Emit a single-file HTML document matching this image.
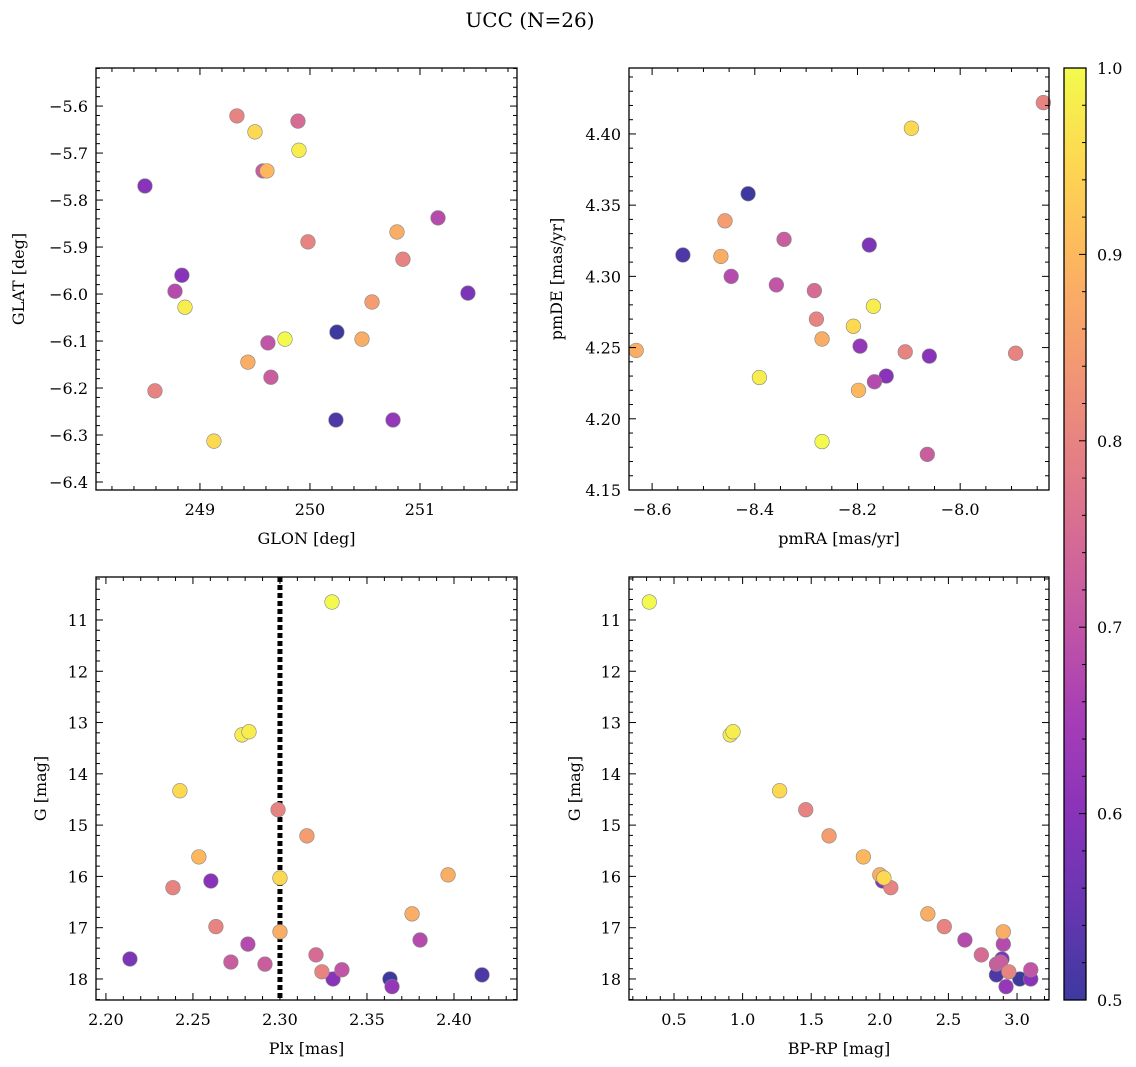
<!DOCTYPE html>
<html><head><meta charset="utf-8"><style>
html,body{margin:0;padding:0;background:#fff;}
svg{display:block;font-family:"DejaVu Serif","Liberation Serif",serif;}
</style></head>
<body>
<svg id="fig" width="1136" height="1067" viewBox="0 0 1136 1067" xmlns="http://www.w3.org/2000/svg">
<text x="530" y="27" font-size="20" text-anchor="middle">UCC (N=26)</text>
</svg>
<script>
const prob=[0.50,0.52,0.58,0.60,0.60,0.62,0.68,0.68,0.70,0.72,0.72,0.75,0.80,0.80,0.80,0.80,0.85,0.88,0.88,0.88,0.90,0.95,0.95,0.98,0.98,1.00];
const glon=[250.245,250.236,251.436,248.5,248.836,250.755,251.164,248.773,249.618,249.573,249.645,249.891,249.336,249.982,250.845,248.591,250.564,250.791,250.473,249.436,249.609,249.5,249.127,249.9,248.864,249.773];
const glat=[-6.081,-6.268,-5.998,-5.770,-5.960,-6.268,-5.838,-5.994,-6.104,-5.738,-6.177,-5.632,-5.621,-5.889,-5.926,-6.206,-6.017,-5.868,-6.096,-6.145,-5.738,-5.655,-6.313,-5.694,-6.028,-6.096];
const pmra=[-8.413,-8.540,-8.177,-8.060,-8.144,-8.195,-8.167,-8.446,-8.358,-8.064,-8.343,-8.284,-7.838,-8.280,-8.107,-7.892,-8.458,-8.631,-8.466,-8.269,-8.198,-8.095,-8.208,-8.391,-8.169,-8.269];
const pmde=[4.358,4.315,4.322,4.244,4.230,4.251,4.226,4.300,4.294,4.175,4.326,4.290,4.422,4.270,4.247,4.246,4.339,4.248,4.314,4.256,4.220,4.404,4.265,4.229,4.279,4.184];
const plx=[2.3632,2.4161,2.2138,2.2603,2.3305,2.3644,2.3805,2.2816,2.3356,2.2914,2.2718,2.3207,2.2989,2.2385,2.2632,2.3241,2.3155,2.3966,2.3759,2.30,2.2534,2.30,2.2425,2.2782,2.2822,2.3299];
const gmag=[18.0,17.92,17.61,16.09,18.0,18.15,17.24,17.32,17.82,17.71,17.67,17.53,14.70,16.22,16.98,17.86,15.21,15.97,16.73,17.08,15.62,16.03,14.33,13.24,13.18,10.65];
const bprp=[3.02,2.85,2.89,2.02,3.1,2.92,2.62,2.9,3.1,2.85,2.88,2.74,1.46,2.08,2.47,2.94,1.63,2.0,2.35,2.9,1.88,2.03,1.27,0.91,0.93,0.32];
const plxCut=2.30;
const cbTicks=[0.5,0.6,0.7,0.8,0.9,1.0];

const NS="http://www.w3.org/2000/svg";
const svg=document.getElementById('fig');
function mk(tag,attrs,parent){const e=document.createElementNS(NS,tag);for(const k in attrs)e.setAttribute(k,attrs[k]);(parent||svg).appendChild(e);return e;}
const stops=[[13,8,135],[65,4,157],[106,0,168],[143,13,164],[177,42,144],[204,71,120],[225,100,98],[242,132,75],[252,166,54],[252,206,37],[240,249,33]];
function plasma(t){t=Math.max(0,Math.min(1,t));const s=t*10,i=Math.min(9,Math.floor(s)),f=s-i;const a=stops[i],b=stops[i+1];
 const c=a.map((v,k)=>Math.round(v+(b[k]-v)*f));
 const al=0.8;return 'rgb('+c.map(v=>Math.round(v*al+255*(1-al))).join(',')+')';}
function cnorm(p){return (p-0.5)/0.5;}
function fmt(v,d){return v.toFixed(d).replace('-','\u2212');}

function panel(o){
 const g=mk('g',{});
 
 
 const X=v=>o.x0+(v-o.xmin)/(o.xmax-o.xmin)*(o.x1-o.x0);
 const Y=o.yinv?(v=>o.y0+(v-o.ymin)/(o.ymax-o.ymin)*(o.y1-o.y0)):(v=>o.y1-(v-o.ymin)/(o.ymax-o.ymin)*(o.y1-o.y0));
 if(o.extra)o.extra(g,X,Y);
 for(let i=0;i<o.xs.length;i++){
  const c=mk('circle',{cx:X(o.xs[i]),cy:Y(o.ys[i]),r:7.3,fill:plasma(cnorm(prob[i])),stroke:'#888','stroke-width':0.6},g);
  
  
 }
 const fr=mk('rect',{x:o.x0,y:o.y0,width:o.x1-o.x0,height:o.y1-o.y0,fill:'none',stroke:'#000','stroke-width':1.3},g);
 
 
 const eps=1e-9;
 const xm0=Math.ceil(o.xmin/o.xminor-eps);
 for(let k=xm0;k*o.xminor<=o.xmax+eps;k++){const v=k*o.xminor;const px=X(v);
  const major=Math.abs(v/o.xmajor-Math.round(v/o.xmajor))<1e-6;const L=major?7:4;
  mk('line',{x1:px,x2:px,y1:o.y1,y2:o.y1-L,stroke:'#000','stroke-width':1},g);
  mk('line',{x1:px,x2:px,y1:o.y0,y2:o.y0+L,stroke:'#000','stroke-width':1},g);
  if(major){const t=mk('text',{x:px,y:o.y1+25,'font-size':16,'text-anchor':'middle'},g);t.textContent=fmt(v,o.xd);
   }
 }
 const ym0=Math.ceil(o.ymin/o.yminor-eps);
 for(let k=ym0;k*o.yminor<=o.ymax+eps;k++){const v=k*o.yminor;const py=Y(v);
  const major=Math.abs(v/o.ymajor-Math.round(v/o.ymajor))<1e-6;const L=major?7:4;
  mk('line',{x1:o.x0,x2:o.x0+L,y1:py,y2:py,stroke:'#000','stroke-width':1},g);
  mk('line',{x1:o.x1,x2:o.x1-L,y1:py,y2:py,stroke:'#000','stroke-width':1},g);
  if(major){const t=mk('text',{x:o.x0-8,y:py+6,'font-size':16,'text-anchor':'end'},g);t.textContent=fmt(v,o.yd);
   }
 }
 const xl=mk('text',{x:(o.x0+o.x1)/2,y:o.y1+54,'font-size':16,'text-anchor':'middle'},g);xl.textContent=o.xlabel;
 
 const yx=o.ylx,yy=(o.y0+o.y1)/2;
 const yl=mk('text',{x:yx,y:yy,'font-size':16,'text-anchor':'middle',transform:'rotate(-90 '+yx+' '+yy+')'},g);yl.textContent=o.ylabel;
 
}

panel({name:'glon-glat-panel',x0:96,x1:517,y0:68,y1:490,xmin:248.055,xmax:251.882,ymin:-6.417,ymax:-5.519,xs:glon,ys:glat,
 xmajor:1,xminor:0.2,ymajor:0.1,yminor:0.02,xd:0,yd:1,xlabel:'GLON [deg]',ylabel:'GLAT [deg]',ylx:24});
panel({name:'pm-panel',x0:629,x1:1049,y0:68,y1:490,xmin:-8.645,xmax:-7.827,ymin:4.15,ymax:4.4463,xs:pmra,ys:pmde,
 xmajor:0.2,xminor:0.05,ymajor:0.05,yminor:0.01,xd:1,yd:2,xlabel:'pmRA [mas/yr]',ylabel:'pmDE [mas/yr]',ylx:562});
panel({name:'plx-g-panel',x0:96,x1:517,y0:577,y1:1000,xmin:2.1943,xmax:2.4362,ymin:10.162,ymax:18.41,yinv:true,xs:plx,ys:gmag,
 xmajor:0.05,xminor:0.01,ymajor:1,yminor:0.2,xd:2,yd:0,xlabel:'Plx [mas]',ylabel:'G [mag]',ylx:46,
 extra:(g,X,Y)=>{const l=mk('line',{x1:X(plxCut),x2:X(plxCut),y1:577,y2:1000,stroke:'#000','stroke-width':5,'stroke-dasharray':'5 3'},g);
  }});
panel({name:'cmd-panel',x0:629,x1:1049,y0:577,y1:1000,xmin:0.172,xmax:3.233,ymin:10.162,ymax:18.41,yinv:true,xs:bprp,ys:gmag,
 xmajor:0.5,xminor:0.1,ymajor:1,yminor:0.2,xd:1,yd:0,xlabel:'BP-RP [mag]',ylabel:'G [mag]',ylx:580});

const cb=mk('g',{});


const defs=mk('defs',{},cb);
const grad=mk('linearGradient',{id:'cbg',x1:0,y1:1,x2:0,y2:0},defs);
for(let i=0;i<=20;i++){mk('stop',{offset:i/20,'stop-color':plasma(i/20)},grad);}
const cx0=1064,cx1=1086,cy0=68,cy1=1000;
mk('rect',{x:cx0,y:cy0,width:cx1-cx0,height:cy1-cy0,fill:'url(#cbg)',stroke:'#000','stroke-width':1.3},cb);
const CY=v=>cy1-(v-0.5)/0.5*(cy1-cy0);
for(let k=25;k<=50;k++){const v=k*0.02;const py=CY(v);const major=(k%5===0);
 mk('line',{x1:cx1,x2:cx1-(major?7:4),y1:py,y2:py,stroke:'#000','stroke-width':1},cb);}
cbTicks.forEach(v=>{const t=mk('text',{x:1097,y:CY(v)+6,'font-size':16},cb);t.textContent=v.toFixed(1);
 
 });
</script>
</body></html>
